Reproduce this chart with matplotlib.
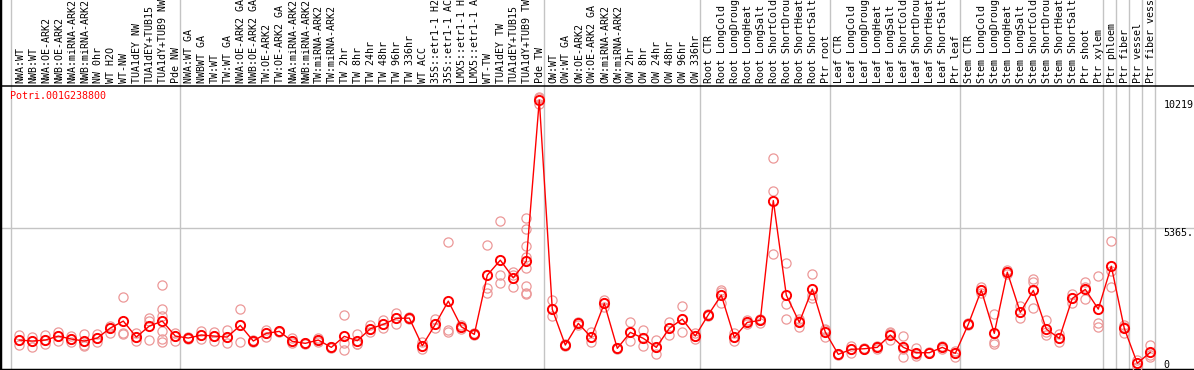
import matplotlib
matplotlib.use('Agg')
import matplotlib.pyplot as plt
from matplotlib.transforms import blended_transform_factory

gene = 'Potri.001G238800'

labels = ['NWA:WT', 'NWB:WT', 'NWA:OE-ARK2', 'NWB:OE-ARK2', 'NWA:miRNA-ARK2', 'NWB:miRNA-ARK2',
          'NW 0hr', 'WT H2O', 'WT-NW', 'TUA1dEY NW', 'TUA1dEY+TUB15', 'TUA1dY+TUB9 NW', 'Pde NW',
          'NWA:WT GA', 'NWBWT GA', 'TW:WT', 'TW:WT GA', 'NWA:OE-ARK2 GA', 'NWB:OE-ARK2 GA',
          'TW:OE-ARK2', 'TW:OE-ARK2 GA', 'NWA:miRNA-ARK2', 'NWB:miRNA-ARK2', 'TW:miRNA-ARK2',
          'TW:miRNA-ARK2', 'TW 2hr', 'TW 8hr', 'TW 24hr', 'TW 48hr', 'TW 96hr', 'TW 336hr', 'WT ACC',
          '35S::etr1-1 H2', '35S::etr1-1 AC', 'LMX5::etr1-1 H', 'LMX5::etr1-1 A', 'WT-TW',
          'TUA1dEY TW', 'TUA1dEY+TUB15', 'TUA1dY+TUB9 TW', 'Pde TW',
          'OW:WT', 'OW:WT GA', 'OW:OE-ARK2', 'OW:OE-ARK2 GA', 'OW:miRNA-ARK2', 'OW:miRNA-ARK2',
          'OW 2hr', 'OW 8hr', 'OW 24hr', 'OW 48hr', 'OW 96hr', 'OW 336hr',
          'Root CTR', 'Root LongCold', 'Root LongDroug', 'Root LongHeat', 'Root LongSalt',
          'Root ShortCold', 'Root ShortDrou', 'Root ShortHeat', 'Root ShortSalt', 'Ptr root',
          'Leaf CTR', 'Leaf LongCold', 'Leaf LongDroug', 'Leaf LongHeat', 'Leaf LongSalt',
          'Leaf ShortCold', 'Leaf ShortDrou', 'Leaf ShortHeat', 'Leaf ShortSalt', 'Ptr leaf',
          'Stem CTR', 'Stem LongCold', 'Stem LongDroug', 'Stem LongHeat', 'Stem LongSalt',
          'Stem ShortCold', 'Stem ShortDrou', 'Stem ShortHeat', 'Stem ShortSalt', 'Ptr shoot',
          'Ptr xylem', 'Ptr phloem', 'Ptr fiber', 'Ptr vessel', 'Ptr fiber vess']

# number of samples in each experiment block (grey separators)
group_sizes = [13, 28, 12, 10, 10, 11, 1, 1, 1, 1]

means = [1117, 1079, 1117, 1268, 1154, 1079, 1192, 1571, 1836, 1230, 1646, 1836, 1268,
         1192, 1306, 1268, 1230, 1673, 1079, 1370, 1446, 1067, 992, 1117, 840, 1257, 1090,
         1544, 1711, 1938, 1949, 901, 1711, 2593, 1620, 1332, 3577, 4145, 3475, 4107, 10219,
         2279, 927, 1749, 1219, 2506, 802, 1408, 1181, 840, 1559, 1911, 1268,
         2074, 2820, 1219, 1787, 1862, 6404, 2820, 1787, 3047, 1419,
         575, 765, 787, 840, 1306, 840, 636, 636, 840, 613,
         1711, 3009, 1370, 3690, 2165, 2998, 1533, 1181, 2695, 3036,
         2290, 3917, 1559, 235, 651]

reps = [[1306, 1117, 927], [1241, 1079, 863], [1306, 1117, 965], [1408, 1268, 1090],
        [1279, 1154, 1030], [1344, 927, 889], [1332, 1192, 1052], [1646, 1571, 1393],
        [2733, 1382, 1344], [1393, 1230, 1079], [1961, 1836, 1117],
        [3198, 2290, 2025, 1457, 1154, 1041], [1393, 1268, 1090],
        [1230, 1192, 1154], [1457, 1306, 1154], [1419, 1268, 1090], [1495, 1230, 992],
        [2279, 1673, 1030], [1117, 1079, 1041], [1495, 1370, 1241], [1470, 1446, 1420],
        [1192, 1067, 992], [1010, 992, 975], [1181, 1117, 1052], [860, 840, 820],
        [2051, 992, 738], [1332, 973, 965], [1673, 1544, 1420], [1874, 1711, 1582],
        [2150, 1938, 1711], [1990, 1949, 1910], [1030, 901, 776], [1911, 1711, 1582],
        [4852, 1495, 1432], [1700, 1620, 1540], [1370, 1332, 1290], [4739, 3073, 2884],
        [5621, 3577, 3263], [3690, 3600, 3123],
        [5761, 5344, 4701, 4247, 3830, 3160, 2907, 2858], [10330, 10280, 10049],
        [2631, 2279, 2025], [950, 927, 905], [1810, 1749, 1690], [1408, 1219, 1030],
        [2631, 2506, 2377], [830, 802, 780], [1787, 1408, 1067], [1495, 1181, 889],
        [1117, 840, 587], [1809, 1559, 1306], [2403, 1911, 1408], [1393, 1268, 1143],
        [2120, 2074, 2030], [3009, 2945, 2506], [1393, 1219, 1090], [1860, 1787, 1710],
        [1900, 1862, 1749], [8032, 6756, 4398], [4020, 2468, 1900], [1900, 1840, 1620],
        [3603, 2843, 2695], [1533, 1483, 1241],
        [600, 575, 550], [901, 780, 613], [810, 787, 765], [890, 840, 790], [1420, 1393, 1117],
        [1268, 768, 484], [802, 600, 511], [660, 636, 612], [889, 840, 790], [712, 643, 484],
        [1750, 1711, 1670], [3111, 3009, 2907], [2089, 1052, 965], [3765, 3690, 3615],
        [2403, 2165, 1949], [3425, 3312, 2316], [1874, 1420, 1306], [1332, 1181, 1030],
        [2858, 2700, 2528], [3323, 3117, 2668],
        [3539, 1771, 1597], [4864, 3728, 3111], [1700, 1600, 1370], [360, 235, 110],
        [927, 564, 462]]

y_max = 10219
y_mid_text = '5365.'

red = '#ff0000'
pink = '#ec9898'
grey = '#c4c4c4'
mono = 'DejaVu Sans Mono'

fig = plt.figure(figsize=(11.94, 3.70), dpi=100)
ax = fig.add_axes([0, 0, 1, 1])

# pixel layout: column pitch 13px, first column at 19px, value 0 at 369.5px from top
top = y_max * 1.05
k = top / 283.0
ax.set_xlim(-19.3 / 13, (1194 - 19.3) / 13)
ax.set_ylim(-0.5 * k, 369.5 * k)
ax.set_xticks([])
ax.set_yticks([])
for s in ['top', 'right']:
    ax.spines[s].set_visible(False)
for s in ['left', 'bottom']:
    ax.spines[s].set_linewidth(2.5)
    ax.spines[s].set_color('black')

# grid / separators
start = 0
ax.axvline(start - 0.64, color=grey, lw=1.0, zorder=1)
for g in group_sizes:
    start += g
    ax.axvline(start - 0.64, color=grey, lw=1.0, zorder=1)
ax.axhline(top / 2, color=grey, lw=1.0, zorder=1)
ax.axhline(top, color='black', lw=1.1, zorder=2)

xs = list(range(len(means)))

# replicates
for i, r in enumerate(reps):
    ax.plot([i] * len(r), r, 'o', ms=6.6, mfc='none', mec=pink, mew=0.9, zorder=3, clip_on=False)

# mean profile
ax.plot(xs, means, '-', color=red, lw=1.0, zorder=4)
ax.plot(xs, means, 'o', ms=6.6, mfc='none', mec=red, mew=1.4, zorder=5)

# header labels
trans = blended_transform_factory(ax.transData, ax.transAxes)
for i, lab in enumerate(labels):
    ax.text(i + 0.05, 1 - 83.0 / 370, lab, rotation=90, ha='center', va='bottom',
            family=mono, fontsize=7.2, color='black', transform=trans)

ax.text(-0.75, 1 - 91.0 / 370, gene, ha='left', va='top', family=mono, fontsize=7.2,
        color=red, transform=trans)

# value labels on the right
ax.text(len(means), y_max, str(y_max), ha='left', va='top', family=mono, fontsize=7.2)
ax.text(len(means), top / 2, y_mid_text, ha='left', va='top', family=mono, fontsize=7.2)
ax.text(len(means), 0, '0', ha='left', va='bottom', family=mono, fontsize=7.2)

fig.savefig('out.png', dpi=100)
